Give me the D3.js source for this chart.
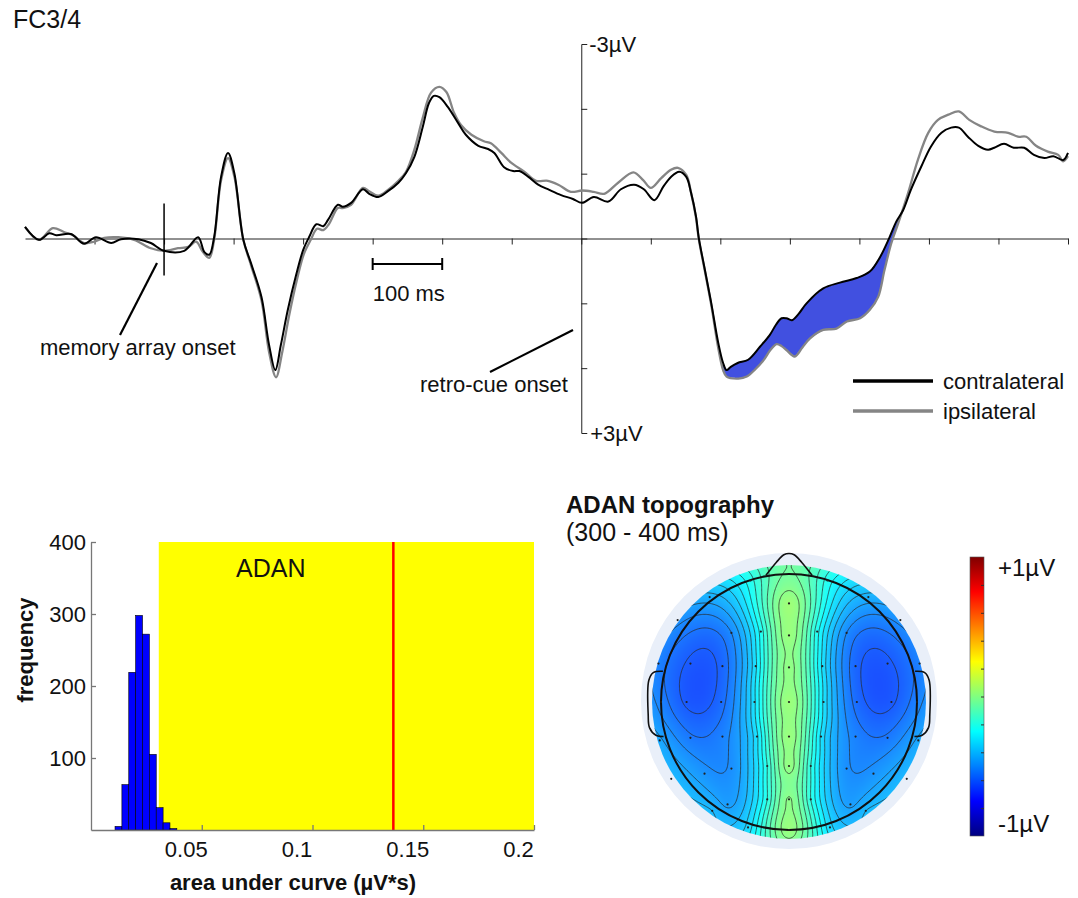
<!DOCTYPE html>
<html>
<head>
<meta charset="utf-8">
<script src="https://cdn.jsdelivr.net/npm/d3@7"></script>
<style>
body{margin:0;background:#fff}
svg text{font-family:"Liberation Sans",Arial,sans-serif;fill:#111}
</style>
</head>
<body>
<div id="fig"></div>
<script>
// ERP at FC3/4 : [time (ms, 0 = memory array onset), amplitude (µV)]
var contra = [[-200,-0.18],[-180,0.02],[-165,-0.08],[-155,-0.05],[-134,-0.07],[-115,0.08],[-98,-0.02],[-76,0.07],[-62,0.01],[-37,0.01],[-19,0.07],[0,0.19],[29,0.19],[49,-0.02],[58,0.21],[65,0.25],[72,-0.02],[82,-0.95],[92,-1.32],[101,-1.01],[114,0.02],[125,0.38],[140,0.9],[151,1.64],[160,2.03],[168,1.64],[178,1.1],[190,0.56],[200,0.18],[209,-0.03],[219,-0.22],[229,-0.19],[236,-0.29],[250,-0.52],[257,-0.49],[269,-0.55],[286,-0.76],[295,-0.69],[308,-0.64],[322,-0.73],[337,-0.86],[348,-1.01],[360,-1.26],[372,-1.72],[381,-2.09],[388,-2.2],[396,-2.18],[408,-2.03],[423,-1.78],[434,-1.6],[452,-1.43],[466,-1.38],[475,-1.32],[489,-1.1],[502,-1.04],[511,-1.04],[524,-0.95],[538,-0.83],[554,-0.75],[571,-0.67],[588,-0.61],[601,-0.55],[618,-0.64],[639,-0.57],[657,-0.76],[676,-0.83],[690,-0.76],[705,-0.59],[718,-0.8],[729,-0.95],[741,-1.03],[751,-0.95],[758,-0.7],[765,-0.34],[769,-0.01],[777,0.44],[787,1.0],[797,1.61],[804,1.92],[809,2.03],[815,1.98],[825,1.92],[840,1.87],[857,1.67],[871,1.49],[880,1.33],[888,1.23],[895,1.23],[903,1.26],[912,1.17],[924,1.0],[948,0.77],[972,0.68],[996,0.61],[1015,0.51],[1030,0.28],[1043,-0.01],[1053,-0.26],[1063,-0.44],[1074,-0.75],[1089,-1.11],[1103,-1.42],[1118,-1.63],[1132,-1.71],[1143,-1.71],[1156,-1.57],[1171,-1.43],[1185,-1.37],[1194,-1.4],[1208,-1.46],[1222,-1.4],[1237,-1.4],[1251,-1.29],[1266,-1.24],[1279,-1.27],[1293,-1.21],[1300,-1.32]];
var ipsi = [[-200,-0.18],[-180,0.02],[-160,-0.16],[-144,-0.1],[-131,-0.05],[-115,0.07],[-101,0.05],[-86,-0.01],[-66,-0.02],[-43,0.02],[-19,0.15],[0,0.19],[20,0.15],[35,0.13],[46,0.05],[56,0.21],[65,0.3],[72,0.02],[82,-0.9],[92,-1.24],[101,-0.96],[114,0.02],[125,0.41],[140,0.95],[151,1.75],[161,2.14],[170,1.75],[180,1.18],[191,0.64],[201,0.24],[211,0.02],[220,-0.15],[229,-0.13],[237,-0.22],[250,-0.47],[257,-0.47],[269,-0.52],[286,-0.78],[295,-0.73],[308,-0.66],[322,-0.75],[337,-0.89],[348,-1.03],[360,-1.37],[372,-1.86],[384,-2.25],[396,-2.34],[406,-2.26],[417,-1.94],[427,-1.75],[442,-1.6],[460,-1.5],[470,-1.47],[485,-1.32],[499,-1.17],[518,-1.03],[535,-0.89],[552,-0.89],[567,-0.83],[585,-0.72],[601,-0.74],[618,-0.72],[633,-0.69],[653,-0.86],[675,-1.02],[689,-0.9],[700,-0.78],[715,-0.93],[729,-1.06],[739,-1.09],[751,-0.98],[758,-0.7],[765,-0.32],[769,0.01],[777,0.46],[787,1.03],[797,1.69],[804,2.03],[809,2.13],[826,2.16],[838,2.13],[850,2.02],[862,1.88],[872,1.72],[881,1.63],[888,1.66],[895,1.72],[907,1.82],[918,1.68],[929,1.54],[948,1.41],[967,1.39],[982,1.28],[1001,1.23],[1015,1.1],[1027,0.9],[1036,0.49],[1046,0.07],[1056,-0.24],[1070,-0.7],[1084,-1.21],[1099,-1.63],[1113,-1.83],[1128,-1.91],[1143,-1.96],[1158,-1.83],[1175,-1.73],[1194,-1.65],[1214,-1.63],[1228,-1.57],[1240,-1.57],[1254,-1.43],[1271,-1.34],[1286,-1.29],[1293,-1.19],[1300,-1.27]];
var timeTicks = [-100,0,100,200,300,400,500,600,700,800,900,1000,1100,1200,1300];
var voltTicks = [-2,-1,0,1,2];
var memoryOnset = 0, retroOnset = 600;
var scaleBar = [300, 400];
var adanWindow = [804, 1062];

// permutation distribution of the area under the curve
var binCenters = [0.0124,0.0155,0.0186,0.0217,0.0248,0.0279,0.0310,0.0341,0.0372];
var binCounts = [5,63,219,298,272,105,31,10,2];
var binWidth = 0.0031;
var critValue = 0.0306;
var observedArea = 0.1365;
var histXTicks = [0.05,0.1,0.15,0.2];
var histYTicks = [100,200,300,400];

// topography 300-400 ms, electrode positions (head radius = 1) and mean amplitude (µV)
var elecX = [0,0,0,0,0,0,0,0,-0.3,0.3,-0.62,0.62,-0.87,0.87,-0.45,0.45,-0.22,0.22,-1.02,1.02,-0.77,0.77,-0.52,0.52,-0.26,0.26,-1.0,1.0,-0.8,0.8,-0.53,0.53,-0.27,0.27,-1.01,1.01,-0.77,0.77,-0.52,0.52,-0.25,0.25,-0.92,0.92,-0.66,0.66,-0.45,0.45,-0.17,0.17,-0.6,0.6,-0.48,0.48,-0.17,0.17,-0.32,0.32];
var elecY = [-0.77,-0.52,-0.27,0,0.27,0.5,0.76,1.0,-0.95,-0.95,-0.82,-0.82,-0.64,-0.64,-0.54,-0.54,-0.55,-0.55,-0.3,-0.3,-0.3,-0.3,-0.28,-0.28,-0.28,-0.28,0,0,0,0,0,0,0,0,0.3,0.3,0.28,0.28,0.27,0.27,0.27,0.27,0.6,0.6,0.56,0.56,0.52,0.52,0.5,0.5,0.85,0.85,0.8,0.8,0.76,0.76,0.98,0.98];
var elecV = [0.04,0.03,0.015,0.035,0.03,0.02,0.005,0.03,-0.22,-0.22,-0.42,-0.42,-0.48,-0.48,-0.5,-0.5,-0.23,-0.23,-0.52,-0.52,-0.61,-0.61,-0.58,-0.58,-0.31,-0.31,-0.52,-0.52,-0.61,-0.61,-0.57,-0.57,-0.31,-0.31,-0.44,-0.44,-0.54,-0.54,-0.52,-0.52,-0.31,-0.31,-0.4,-0.4,-0.48,-0.48,-0.49,-0.49,-0.2,-0.2,-0.4,-0.4,-0.46,-0.46,-0.2,-0.2,-0.33,-0.33];
var colorRange = [-1, 1];
var colorTicks = [-0.8,-0.6,-0.4,-0.2,0,0.2,0.4,0.6,0.8];

var width = 1078, height = 898;
var svg = d3.select("#fig").append("svg")
  .attr("width", width)
  .attr("height", height);

// ---------------- ERP panel ----------------
var x = d3.scaleLinear().domain([-200, 1300]).range([25, 1068]);
var y = d3.scaleLinear().domain([-3, 3]).range([44, 433]);

svg.append("text").attr("x", 13).attr("y", 28).style("font-size", "25px").text("FC3/4");

svg.append("g")
  .attr("transform", "translate(0," + y(0) + ")")
  .call(d3.axisBottom(x).tickValues(timeTicks).tickSize(6).tickSizeOuter(0).tickFormat(""));
svg.append("g")
  .attr("transform", "translate(" + x(retroOnset) + ",0)")
  .call(d3.axisRight(y).tickValues(voltTicks).tickSize(6).tickSizeOuter(6).tickFormat(""));
svg.selectAll(".domain, .tick line").attr("stroke", "#222").attr("stroke-width", 1);

svg.append("text").attr("x", x(retroOnset) + 8).attr("y", y(-3) + 8).style("font-size", "22px").text("-3µV");
svg.append("text").attr("x", x(retroOnset) + 9).attr("y", y(3) + 8).style("font-size", "22px").text("+3µV");

function interp(series, t) {
  var i = d3.bisector(function(d){ return d[0]; }).right(series, t);
  if (i <= 0) return series[0][1];
  if (i >= series.length) return series[series.length-1][1];
  var a = series[i-1], b = series[i];
  return a[1] + (b[1]-a[1]) * (t-a[0]) / (b[0]-a[0]);
}

// ADAN difference area
var fillT = d3.range(adanWindow[0], adanWindow[1] + 1, 2);
svg.append("path")
  .datum(fillT)
  .attr("fill", "#4150e0")
  .attr("d", d3.area()
    .x(function(t){ return x(t); })
    .y0(function(t){ return y(interp(contra, t)); })
    .y1(function(t){ return y(Math.max(interp(ipsi, t), interp(contra, t))); }));

var line = d3.line()
  .x(function(d){ return x(d[0]); })
  .y(function(d){ return y(d[1]); })
  .curve(d3.curveCatmullRom.alpha(0.5));

svg.append("path").datum(ipsi).attr("d", line)
  .attr("fill", "none").attr("stroke", "#858585").attr("stroke-width", 2.3);
svg.append("path").datum(contra).attr("d", line)
  .attr("fill", "none").attr("stroke", "#000").attr("stroke-width", 2);

// memory array onset marker
svg.append("line")
  .attr("x1", x(memoryOnset)).attr("x2", x(memoryOnset))
  .attr("y1", y(0) - 35).attr("y2", y(0) + 37)
  .attr("stroke", "#000").attr("stroke-width", 1.5);
svg.append("line").attr("x1", 120).attr("y1", 335).attr("x2", 157).attr("y2", 263)
  .attr("stroke", "#000").attr("stroke-width", 2.2);
svg.append("text").attr("x", 40).attr("y", 355).style("font-size", "22px").text("memory array onset");

svg.append("line").attr("x1", 490).attr("y1", 372).attr("x2", 573).attr("y2", 330)
  .attr("stroke", "#000").attr("stroke-width", 2.2);
svg.append("text").attr("x", 420).attr("y", 392).style("font-size", "22px").text("retro-cue onset");

// 100 ms scale bar
var sb = svg.append("g").attr("stroke", "#000").attr("stroke-width", 2);
sb.append("line").attr("x1", x(scaleBar[0])).attr("x2", x(scaleBar[1])).attr("y1", 264).attr("y2", 264);
sb.append("line").attr("x1", x(scaleBar[0])).attr("x2", x(scaleBar[0])).attr("y1", 258).attr("y2", 270);
sb.append("line").attr("x1", x(scaleBar[1])).attr("x2", x(scaleBar[1])).attr("y1", 258).attr("y2", 270);
svg.append("text").attr("x", x(scaleBar[0])).attr("y", 301).style("font-size", "22px").text("100 ms");

// legend
var legend = [{name:"contralateral", color:"#000"}, {name:"ipsilateral", color:"#858585"}];
var lg = svg.append("g").selectAll("g").data(legend).enter().append("g")
  .attr("transform", function(d, i){ return "translate(853," + (381 + i*30) + ")"; });
lg.append("line").attr("x1", 0).attr("x2", 80).attr("stroke", function(d){ return d.color; }).attr("stroke-width", 3.5);
lg.append("text").attr("x", 90).attr("y", 8).style("font-size", "22px").text(function(d){ return d.name; });

// ---------------- histogram panel ----------------
var hx = d3.scaleLinear().domain([0, 0.2]).range([91, 534]);
var hy = d3.scaleLinear().domain([0, 400]).range([830, 542]);

svg.append("rect")
  .attr("x", hx(critValue)).attr("y", hy(400))
  .attr("width", hx(0.2) - hx(critValue)).attr("height", hy(0) - hy(400))
  .attr("fill", "#ffff00");

svg.append("g").selectAll("rect").data(binCenters).enter().append("rect")
  .attr("x", function(d){ return hx(d - binWidth/2); })
  .attr("width", function(d){ return hx(d + binWidth/2) - hx(d - binWidth/2); })
  .attr("y", function(d, i){ return hy(binCounts[i]); })
  .attr("height", function(d, i){ return hy(0) - hy(binCounts[i]); })
  .attr("fill", "#0000ff").attr("stroke", "#000").attr("stroke-width", 0.6);

svg.append("line")
  .attr("x1", hx(observedArea)).attr("x2", hx(observedArea))
  .attr("y1", hy(0)).attr("y2", hy(400))
  .attr("stroke", "#ff0000").attr("stroke-width", 2.5);

svg.append("text").attr("x", 236).attr("y", 577).style("font-size", "25px").text("ADAN");

var hxAxis = svg.append("g").attr("transform", "translate(0," + hy(0) + ")")
  .call(d3.axisBottom(hx).tickValues(histXTicks).tickSize(-5).tickSizeOuter(0).tickPadding(11)
    .tickFormat(function(d){ return String(d); }));
hxAxis.selectAll("text").attr("dx", -16);
var hyAxis = svg.append("g").attr("transform", "translate(" + hx(0) + ",0)")
  .call(d3.axisLeft(hy).tickValues(histYTicks).tickSize(-5).tickSizeOuter(0).tickPadding(5));
[hxAxis, hyAxis].forEach(function(g){
  g.selectAll(".domain, .tick line").attr("stroke", "#777").attr("stroke-width", 1.3);
  g.selectAll("text").style("font-size", "22px").attr("fill", "#111")
    .style("font-family", "'Liberation Sans', Arial, sans-serif");
});

svg.append("text").attr("transform", "translate(33,650) rotate(-90)")
  .attr("text-anchor", "middle").style("font-size", "22px").style("font-weight", "bold").text("frequency");
svg.append("text").attr("x", 293).attr("y", 890)
  .attr("text-anchor", "middle").style("font-size", "22px").style("font-weight", "bold").text("area under curve (µV*s)");

// ---------------- topography panel ----------------
svg.append("text").attr("x", 566).attr("y", 513).style("font-size", "24px").style("font-weight", "bold").text("ADAN topography");
svg.append("text").attr("x", 566).attr("y", 541).style("font-size", "25px").text("(300 - 400 ms)");

var cx = 789, cy = 702, R = 128, N = 220, ext = 1.1;

function jet(n) {
  n = Math.max(0, Math.min(1, n));
  var c = function(v){ return Math.max(0, Math.min(1, v)); };
  return [c(1.5 - Math.abs(4*n - 3)), c(1.5 - Math.abs(4*n - 2)), c(1.5 - Math.abs(4*n - 1))];
}
var norm = d3.scaleLinear().domain(colorRange).range([0, 1]);

// biharmonic spline interpolation of the electrode values
function green(d){ return d === 0 ? 0 : d*d*(Math.log(d) - 1); }
var ne = elecV.length;
var A = [], b = elecV.slice();
for (var i = 0; i < ne; i++) {
  A.push([]);
  for (var j = 0; j < ne; j++) A[i].push(green(Math.hypot(elecX[i]-elecX[j], elecY[i]-elecY[j])));
}
for (var k = 0; k < ne; k++) {
  var p = k;
  for (var r = k+1; r < ne; r++) if (Math.abs(A[r][k]) > Math.abs(A[p][k])) p = r;
  var tmp = A[k]; A[k] = A[p]; A[p] = tmp; var tb = b[k]; b[k] = b[p]; b[p] = tb;
  for (var r2 = k+1; r2 < ne; r2++) {
    var f = A[r2][k] / A[k][k];
    for (var c2 = k; c2 < ne; c2++) A[r2][c2] -= f*A[k][c2];
    b[r2] -= f*b[k];
  }
}
var w = new Array(ne);
for (var k2 = ne-1; k2 >= 0; k2--) {
  var s = b[k2];
  for (var c3 = k2+1; c3 < ne; c3++) s -= A[k2][c3]*w[c3];
  w[k2] = s / A[k2][k2];
}
var grid = new Float64Array(N*N);
for (var gj = 0; gj < N; gj++) {
  for (var gi = 0; gi < N; gi++) {
    var px = -ext + (gi + 0.5) / N * 2*ext, py = -ext + (gj + 0.5) / N * 2*ext, v = 0;
    for (var e = 0; e < ne; e++) v += w[e]*green(Math.hypot(px-elecX[e], py-elecY[e]));
    grid[gj*N + gi] = v;
  }
}

var cnv = document.createElement("canvas");
cnv.width = N; cnv.height = N;
var ctx = cnv.getContext("2d");
var img = ctx.createImageData(N, N);
for (var q = 0; q < N*N; q++) {
  var col = jet(norm(grid[q]));
  img.data[4*q]   = Math.round(255*(col[0]*0.9 + 0.1));
  img.data[4*q+1] = Math.round(255*(col[1]*0.9 + 0.1));
  img.data[4*q+2] = Math.round(255*(col[2]*0.9 + 0.1));
  img.data[4*q+3] = 255;
}
ctx.putImageData(img, 0, 0);

var defs = svg.append("defs");
defs.append("clipPath").attr("id", "mapClip")
  .append("circle").attr("cx", cx).attr("cy", cy).attr("r", 1.07*R);

var topo = svg.append("g");
topo.append("circle").attr("cx", cx).attr("cy", cy - 1).attr("r", 148).attr("fill", "#e9eff9");
topo.append("image")
  .attr("href", cnv.toDataURL())
  .attr("x", cx - ext*R).attr("y", cy - ext*R)
  .attr("width", 2*ext*R).attr("height", 2*ext*R)
  .attr("preserveAspectRatio", "none")
  .attr("clip-path", "url(#mapClip)");

var levels = d3.range(-1, 1.001, 0.05).map(function(v){ return Math.round(v*100)/100; });
var contours = d3.contours().size([N, N]).thresholds(levels)(grid);
var proj = d3.geoTransform({
  point: function(gx, gy) {
    this.stream.point(cx + (gx / N * 2*ext - ext)*R, cy + (gy / N * 2*ext - ext)*R);
  }
});
topo.append("g").attr("clip-path", "url(#mapClip)")
  .selectAll("path").data(contours).enter().append("path")
  .attr("d", d3.geoPath(proj))
  .attr("fill", "none").attr("stroke", "#2a2a2a").attr("stroke-opacity", 0.8).attr("stroke-width", 0.9);

// head outline, nose, ears
var hp = d3.line()
  .x(function(d){ return cx + d[0]*R; })
  .y(function(d){ return cy + d[1]*R; })
  .curve(d3.curveCatmullRom.alpha(0.5));
topo.append("circle").attr("cx", cx).attr("cy", cy).attr("r", R)
  .attr("fill", "none").attr("stroke", "#111").attr("stroke-width", 2);
topo.append("path")
  .attr("d", hp([[-0.18,-0.99],[-0.1,-1.09],[-0.04,-1.15],[0,-1.16],[0.04,-1.15],[0.1,-1.09],[0.18,-0.99]]))
  .attr("fill", "none").attr("stroke", "#111").attr("stroke-width", 1.6);
var ear = [[-0.985,-0.24],[-1.06,-0.23],[-1.095,-0.17],[-1.1,0.1],[-1.09,0.2],[-1.04,0.26],[-0.98,0.27]];
[-1, 1].forEach(function(side){
  topo.append("path")
    .attr("d", hp(ear.map(function(d){ return [-side*d[0], d[1]]; })))
    .attr("fill", "none").attr("stroke", "#111").attr("stroke-width", 1.6);
});

topo.append("g").selectAll("circle").data(elecV).enter().append("circle")
  .attr("cx", function(d, i){ return cx + elecX[i]*R; })
  .attr("cy", function(d, i){ return cy + elecY[i]*R; })
  .attr("r", 1.1).attr("fill", "#222");

// colour bar
var grad = defs.append("linearGradient").attr("id", "jetGrad")
  .attr("x1", 0).attr("y1", 1).attr("x2", 0).attr("y2", 0);
d3.range(0, 1.0001, 0.0625).forEach(function(n){
  var col = jet(n);
  grad.append("stop").attr("offset", n)
    .attr("stop-color", d3.rgb(col[0]*255, col[1]*255, col[2]*255));
});
var cbY = d3.scaleLinear().domain(colorRange).range([836, 557]);
svg.append("rect").attr("x", 970).attr("y", cbY(1)).attr("width", 14).attr("height", cbY(-1) - cbY(1))
  .attr("fill", "url(#jetGrad)").attr("stroke", "#555").attr("stroke-width", 0.6);
var cbAxis = svg.append("g").attr("transform", "translate(984,0)")
  .call(d3.axisRight(cbY).tickValues(colorTicks).tickSize(-3).tickSizeOuter(0).tickFormat(""));
cbAxis.select(".domain").remove();
cbAxis.selectAll(".tick line").attr("stroke", "#333");
svg.append("text").attr("x", 998).attr("y", 576).style("font-size", "24px").text("+1µV");
svg.append("text").attr("x", 998).attr("y", 832).style("font-size", "24px").text("-1µV");
</script>
</body>
</html>
